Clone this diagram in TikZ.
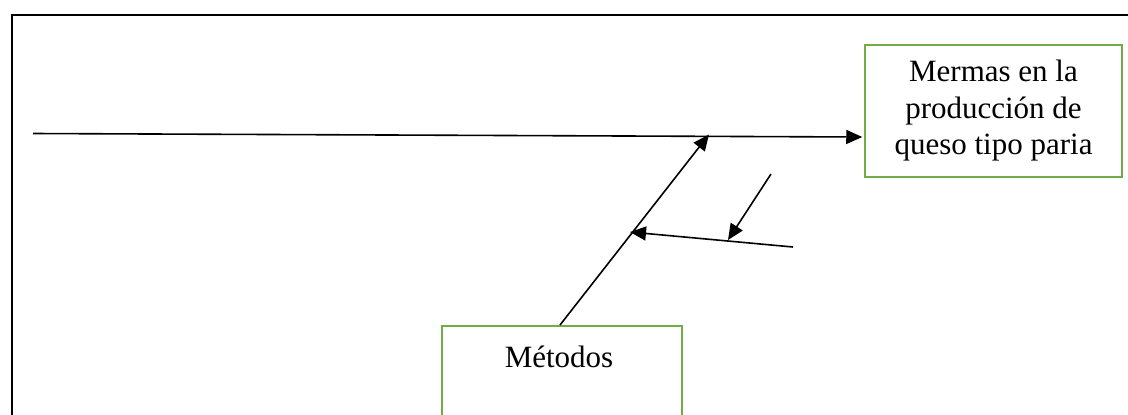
\documentclass[tikz,border=0pt]{standalone}
\usepackage{fontspec}
\setmainfont{Liberation Serif}
\usetikzlibrary{arrows.meta,calc}
\definecolor{boxgreen}{RGB}{112,173,71}
\begin{document}
\begin{tikzpicture}[x=1bp,y=-1bp,
  arr/.style={line width=1.6bp,-{Triangle[length=16bp,width=14bp]}},
  gbox/.style={draw=boxgreen,line width=1.5bp,rectangle,inner sep=0pt},
  txt/.style={font=\fontsize{31bp}{36.5bp}\selectfont,align=center,inner sep=0pt}]
\useasboundingbox (0,0) rectangle (1128,414);
\begin{scope}
\clip (0,0) rectangle (1128,414);
% frame
\draw[line width=2bp] (1140,15) -- (11.5,15) -- (11.5,430);
% effect box
\node[gbox,minimum width=257bp,minimum height=132bp] (effect) at (993.5,111) {};
\node[txt] (efftxt) at (effect.center) {Mermas en la\\producción de\\queso tipo paria};
% methods box
\node[gbox,minimum width=240bp,minimum height=200bp,anchor=north] (met) at (562,325) {};
\node[txt,anchor=center] (mettxt) at (559,357) {Métodos};
% coordinates
\coordinate (spinestart) at (33,133.5);
\coordinate (spineend) at (effect.west |- 0,137);
\coordinate (joint) at (709,134.5);
\coordinate (bonestart) at (560,325);
\coordinate (subjoint) at (630,232);
\coordinate (subend) at (793,247);
\coordinate (twigstart) at (771,174);
\coordinate (twigtip) at (728,240);
% spine
\draw[arr] (spinestart) -- ([xshift=-2bp]spineend);
% main bone
\draw[arr] (bonestart) -- (joint);
% sub cause
\draw[arr] (subend) -- (subjoint);
\draw[arr] (twigstart) -- (twigtip);
\end{scope}
\end{tikzpicture}
\end{document}
